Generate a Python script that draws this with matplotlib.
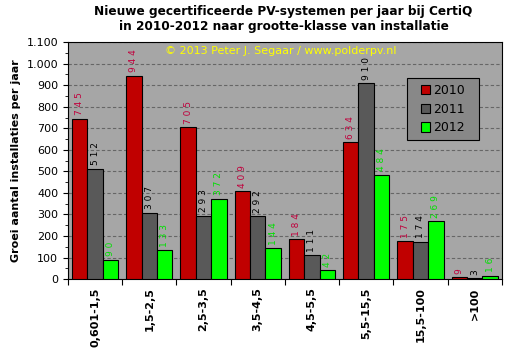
import numpy as np
import matplotlib.pyplot as plt
from matplotlib.patches import Rectangle
from matplotlib.ticker import MultipleLocator, FuncFormatter

categories = ["0,601-1,5", "1,5-2,5", "2,5-3,5", "3,5-4,5", "4,5-5,5", "5,5-15,5", "15,5-100", ">100"]
y2010 = [745, 944, 705, 409, 184, 634, 175, 9]
y2011 = [512, 307, 293, 292, 111, 910, 174, 3]
y2012 = [90, 133, 372, 144, 42, 484, 269, 16]

years = ["2010", "2011", "2012"]
bar_colors = ["#c00000", "#595959", "#00ff00"]
label_colors = ["#c0003c", "#000000", "#00e000"]

fig = plt.figure(figsize=(5.11, 3.51), dpi=100)
ax = fig.add_axes([0.133, 0.205, 0.849, 0.675])
ax.set_facecolor("#a6a6a6")

x = np.arange(len(categories))
w = 0.285
for i, (vals, c, lc) in enumerate(zip([y2010, y2011, y2012], bar_colors, label_colors)):
    pos = x + (i - 1) * w
    ax.bar(pos, vals, w, color=c, edgecolor="black", linewidth=0.8, label=years[i], zorder=3)
    for p, v in zip(pos, vals):
        ax.text(p, v + 16, " ".join(str(v)), rotation=90, ha="center", va="bottom",
                color=lc, fontsize=6.5, zorder=4)

ax.set_xlim(-0.5, len(categories) - 0.5)
ax.set_ylim(0, 1100)
ax.yaxis.set_major_locator(MultipleLocator(100))
ax.yaxis.set_minor_locator(MultipleLocator(50))
ax.yaxis.set_major_formatter(FuncFormatter(lambda v, p: f"{int(v):,}".replace(",", ".")))
ax.grid(axis="y", color="#666666", linestyle=(0, (3, 2)), linewidth=0.8, zorder=0)

ax.set_xticks(np.arange(len(categories) + 1) - 0.5, minor=False)
ax.set_xticklabels([])
ax.set_xticks(x, minor=True)
ax.set_xticklabels(categories, minor=True, rotation=90, fontsize=8, fontweight="bold")
ax.tick_params(axis="x", which="minor", length=0, pad=6)
ax.tick_params(axis="x", which="major", length=4, direction="out")
ax.tick_params(axis="y", which="both", labelsize=8, direction="out")
ax.tick_params(axis="y", which="minor", length=2)

ax.set_ylabel("Groei aantal installaties per jaar", fontsize=8, fontweight="bold")
fig.suptitle("Nieuwe gecertificeerde PV-systemen per jaar bij CertiQ\nin 2010-2012 naar grootte-klasse van installatie",
             fontsize=8.7, fontweight="bold", y=0.985, x=0.555)

ax.text(0.49, 0.985, "© 2013 Peter J. Segaar / www.polderpv.nl", transform=ax.transAxes,
        ha="center", va="top", color="#ffff00", fontsize=8, zorder=5)

# legend box drawn separately so it can be wider than its content
ax.add_patch(Rectangle((0.781, 0.586), 0.166, 0.262, transform=ax.transAxes,
                       facecolor="#888888", edgecolor="black", linewidth=0.8, zorder=5))
leg = ax.legend(loc="center", bbox_to_anchor=(0.864, 0.717), frameon=False,
                fontsize=9, handlelength=0.75, handleheight=0.75, labelspacing=0.45,
                borderpad=0.3, handletextpad=0.25, borderaxespad=0)
leg.set_zorder(6)

for s in ax.spines.values():
    s.set_color("black")

fig.savefig("out.png", dpi=100)
